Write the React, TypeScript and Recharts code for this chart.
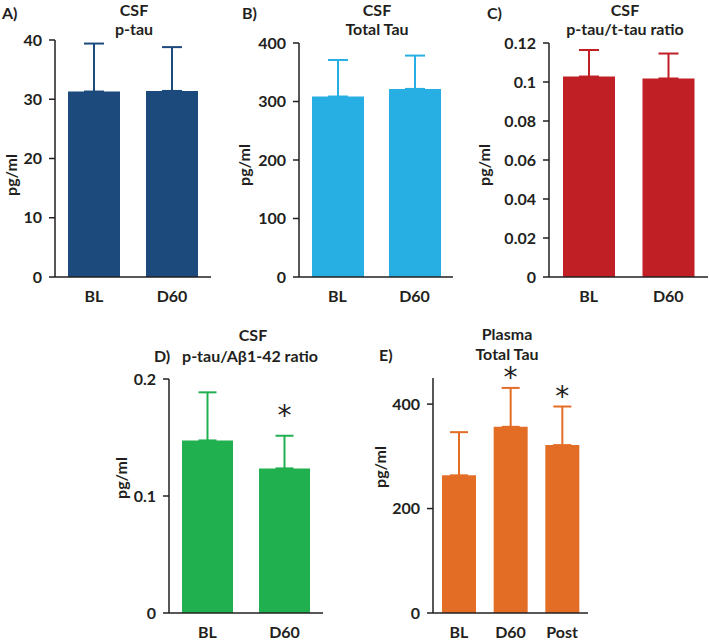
import { BarChart, Bar, XAxis, YAxis, ErrorBar, ReferenceDot } from 'recharts';

const FONT = 'Lato, "Open Sans", sans-serif';
const INK = '#231f20';

// categories
const csfVisits = ['BL', 'D60'];
const plasmaVisits = ['BL', 'D60', 'Post'];

// A) CSF p-tau
const pTauMean = [31.3, 31.4];
const pTauErr = [8.1, 7.4];
// B) CSF total tau
const totalTauMean = [308.5, 321.5];
const totalTauErr = [62.5, 57];
// C) CSF p-tau/t-tau ratio
const tauRatioMean = [0.1028, 0.1018];
const tauRatioErr = [0.0136, 0.0128];
// D) CSF p-tau/Aβ1-42 ratio
const abRatioMean = [0.1475, 0.1236];
const abRatioErr = [0.0411, 0.0279];
const abRatioSig = [false, true];
// E) plasma total tau
const plasmaMean = [263.6, 356.5, 321.5];
const plasmaErr = [82.7, 74.5, 73.9];
const plasmaSig = [false, true, true];

// tick labels
const pTauTicks = [0, 10, 20, 30, 40];
const totalTauTicks = [0, 100, 200, 300, 400];
const tauRatioTicks = [0, 0.02, 0.04, 0.06, 0.08, 0.1, 0.12];
const abRatioTicks = [0, 0.1, 0.2];
const plasmaTicks = [0, 200, 400];

const tickStyle = { fill: INK, fontSize: 16, fontWeight: 700, fontFamily: FONT };
const axisStyle = { stroke: INK, strokeWidth: 1.5 };

const Panel = (props: any) => {
  const rows = props.categories.map((c: string, i: number) => ({
    name: c,
    mean: props.means[i],
    err: [0, props.errs[i]],
  }));
  return (
    <div style={{ position: 'absolute', left: props.left, top: props.top }}>
      <BarChart
        width={props.width}
        height={320}
        data={rows}
        margin={{ top: props.mTop, right: props.mRight, left: 0, bottom: props.mBottom }}
      >
        <XAxis
          dataKey="name"
          height={props.xHeight}
          tickLine={false}
          tickSize={6}
          tickMargin={8}
          axisLine={axisStyle}
          tick={tickStyle}
        />
        <YAxis
          type="number"
          width={props.yWidth}
          domain={props.domain}
          ticks={props.ticks}
          interval={0}
          allowDataOverflow
          tickSize={6}
          tickMargin={7}
          axisLine={axisStyle}
          tickLine={axisStyle}
          tick={tickStyle}
        />
        <Bar dataKey="mean" fill={props.color} barSize={props.barSize} isAnimationActive={false}>
          <ErrorBar
            dataKey="err"
            width={props.cap}
            stroke={props.color}
            strokeWidth={2}
            isAnimationActive={false}
          />
        </Bar>
        {props.sig &&
          props.categories.map((c: string, i: number) =>
            props.sig[i] ? (
              <ReferenceDot
                key={c}
                x={c}
                y={props.means[i] + props.errs[i]}
                r={0}
                ifOverflow="visible"
                shape={(p: any) => (
                  <text
                    x={p.cx}
                    y={p.cy - props.sigPad}
                    textAnchor="middle"
                    fontSize={28}
                    fontFamily='"DejaVu Sans", sans-serif'
                    fill={INK}
                  >
                    *
                  </text>
                )}
              />
            ) : null
          )}
      </BarChart>
    </div>
  );
};

const Txt = ({ x, y, children, rotate, left }: any) => (
  <div
    style={{
      position: 'absolute',
      left: x,
      top: y,
      transform: `translate(${left ? '0' : '-50%'}, -50%)${rotate ? ' rotate(-90deg)' : ''}`,
      fontFamily: FONT,
      fontWeight: 700,
      fontSize: 16,
      color: INK,
      whiteSpace: 'nowrap',
      lineHeight: 1,
    }}
  >
    {children}
  </div>
);

export default function App() {
  return (
    <div style={{ position: 'absolute', left: 0, top: 0, width: 709, height: 640, background: '#fff', overflow: 'hidden' }}>
      <Panel
        left={0} top={0} width={230} yWidth={55} mTop={40} mRight={19} mBottom={13} xHeight={30}
        categories={csfVisits} means={pTauMean} errs={pTauErr}
        domain={[0, 40]} ticks={pTauTicks} color="#1c4a7d" barSize={52} cap={10}
      />
      <Panel
        left={230} top={0} width={230} yWidth={69} mTop={43} mRight={7} mBottom={13} xHeight={30}
        categories={csfVisits} means={totalTauMean} errs={totalTauErr}
        domain={[0, 400]} ticks={totalTauTicks} color="#27aee3" barSize={52} cap={10}
      />
      <Panel
        left={460} top={0} width={249} yWidth={89} mTop={43} mRight={1} mBottom={13} xHeight={30}
        categories={csfVisits} means={tauRatioMean} errs={tauRatioErr}
        domain={[0, 0.12]} ticks={tauRatioTicks} color="#c01f26" barSize={52} cap={10}
      />
      <Panel
        left={100} top={320} width={230} yWidth={69} mTop={59} mRight={7} mBottom={0} xHeight={27}
        categories={csfVisits} means={abRatioMean} errs={abRatioErr} sig={abRatioSig} sigPad={11}
        domain={[0, 0.2]} ticks={abRatioTicks} color="#21b04f" barSize={51} cap={9}
      />
      <Panel
        left={330} top={320} width={270} yWidth={103} mTop={58} mRight={12} mBottom={0} xHeight={27}
        categories={plasmaVisits} means={plasmaMean} errs={plasmaErr} sig={plasmaSig} sigPad={1}
        domain={[0, 450]} ticks={plasmaTicks} color="#e46d26" barSize={34} cap={9}
      />

      <Txt x={2} y={13} left>A)</Txt>
      <Txt x={134} y={10}>CSF</Txt>
      <Txt x={134} y={29}>p-tau</Txt>
      <Txt x={11} y={175} rotate>pg/ml</Txt>

      <Txt x={242} y={13} left>B)</Txt>
      <Txt x={377} y={10}>CSF</Txt>
      <Txt x={377} y={29}>Total Tau</Txt>
      <Txt x={244} y={165} rotate>pg/ml</Txt>

      <Txt x={487} y={13} left>C)</Txt>
      <Txt x={625} y={10}>CSF</Txt>
      <Txt x={625} y={29}>p-tau/t-tau ratio</Txt>
      <Txt x={484} y={165} rotate>pg/ml</Txt>

      <Txt x={154} y={356} left>D)</Txt>
      <Txt x={253} y={335}>CSF</Txt>
      <Txt x={250} y={356}>p-tau/Aβ1-42 ratio</Txt>
      <Txt x={121} y={478} rotate>pg/ml</Txt>

      <Txt x={379} y={355} left>E)</Txt>
      <Txt x={507} y={334}>Plasma</Txt>
      <Txt x={507} y={354}>Total Tau</Txt>
      <Txt x={380} y={467} rotate>pg/ml</Txt>
    </div>
  );
}
